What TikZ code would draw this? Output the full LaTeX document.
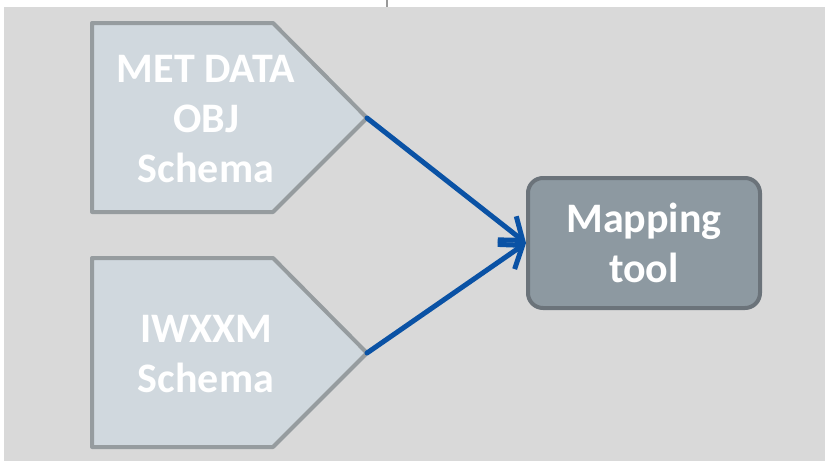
\documentclass[tikz,border=0pt]{standalone}
\usepackage{fontspec}
\setmainfont{Carlito}
\usetikzlibrary{arrows.meta}
\definecolor{bggray}{HTML}{D9D9D9}
\definecolor{schemafill}{HTML}{D0D8DE}
\definecolor{schemaline}{HTML}{969C9F}
\definecolor{toolfill}{HTML}{8D99A1}
\definecolor{toolline}{HTML}{6B737A}
\definecolor{linkblue}{HTML}{0A52A5}

\begin{document}
\begin{tikzpicture}[x=1pt, y=-1pt, line cap=round, line join=round, >={Straight Barb[length=20pt,width=30pt,line width=5pt]},
    schemabox/.style={fill=schemafill, draw=schemaline, line width=4pt},
    toolbox/.style={fill=toolfill, draw=toolline, line width=4pt, rounded corners=15pt, minimum width=232pt, minimum height=130pt},
    label/.style={text=white, align=center, font=\bfseries\fontsize{42}{50}\selectfont},
    link/.style={->, draw=linkblue, line width=5pt}]
    \useasboundingbox (0,0) rectangle (825,461);
    \fill[bggray] (4,7) rectangle (825,461);
    \draw[color=gray!80, line width=2pt, line cap=butt] (387,0) -- (387,7);
    % the two schema boxes
    \draw[schemabox] (92,23) -- (273,23) -- (367,118) -- (273,212) -- (92,212) -- cycle;
    \draw[schemabox] (92,258) -- (273,258) -- (367,353) -- (273,447) -- (92,447) -- cycle;
    \coordinate (tip0) at (367,118);
    \coordinate (tip1) at (367,353);
    \draw(206,119) node[label] (n0) {MET DATA\\OBJ\\Schema};
    \draw(206,354) node[label] (n1) {IWXXM\\Schema};
    \draw(644,243) node[toolbox, label] (n2) {Mapping\\tool};
    \draw[link] (tip0) -- (n2.west);
    \draw[link] (tip1) -- (n2.west);
\end{tikzpicture}
\end{document}
